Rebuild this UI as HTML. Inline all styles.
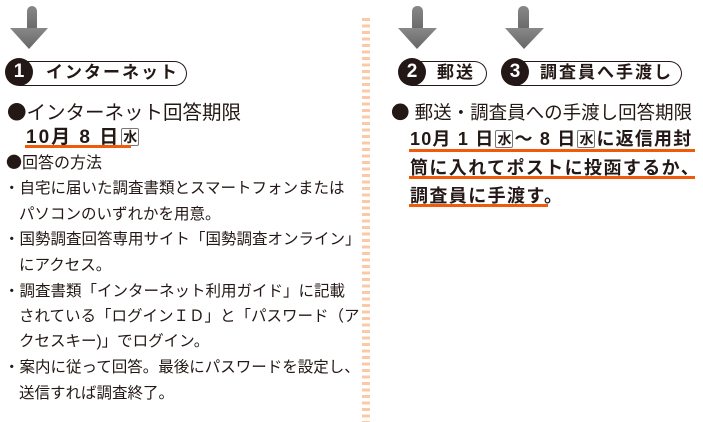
<!DOCTYPE html>
<html><head><meta charset="utf-8"><style>
body{margin:0;width:703px;height:422px;background:#fff;position:relative;overflow:hidden;font-family:"Liberation Sans","Noto Sans CJK JP",sans-serif;color:#231815}
.a{position:absolute;white-space:nowrap}
.b{font-weight:bold}
.c{font-family:"Noto Sans CJK JP",sans-serif}
.w{display:inline-block;border:1px solid #777;border-radius:2px;font-size:14px;line-height:16px;width:16px;text-align:center;vertical-align:1px;font-weight:bold;margin:0 1px;letter-spacing:0}
.ul{position:absolute;height:3px;background:#f05a0a}
.pill{position:absolute;height:23px;border:1.5px solid #231815;border-left:none;border-radius:0 13px 13px 0;background:#fff}
.num{position:absolute;width:28px;height:28px;border-radius:50%;background:#231815;color:#fff;font-weight:bold;font-size:19px;line-height:28px;text-align:center}
.pt{font-size:17px;font-weight:bold;letter-spacing:2px}
.li{font-size:15.5px;position:absolute;white-space:nowrap;left:4px}
</style></head><body>
<svg class="a" style="left:0;top:0" width="703" height="422">
<defs><linearGradient id="g" x1="0" y1="0" x2="0" y2="1"><stop offset="0" stop-color="#888"/><stop offset="1" stop-color="#666"/></linearGradient></defs>
<g fill="url(#g)">
<rect x="27" y="6" width="10" height="26" rx="5"/><polygon points="10,28 48,28 29,49"/>
<rect x="412" y="6" width="11" height="26" rx="5"/><polygon points="398,28 437,28 417,49"/>
<rect x="518" y="6" width="11" height="26" rx="5"/><polygon points="505,28 544,28 524,49"/>
</g>
<line x1="366" y1="18" x2="366" y2="422" stroke="#fcc9a6" stroke-width="8" stroke-dasharray="3 3.5"/>
</svg>

<div class="pill" style="left:19px;top:61px;width:167px"></div>
<div class="num" style="left:5px;top:58px">1</div>
<div class="a pt" style="left:46px;top:61px;line-height:23px">インターネット</div>

<div class="pill" style="left:411px;top:61px;width:75px"></div>
<div class="num" style="left:398px;top:58px">2</div>
<div class="a pt" style="left:437px;top:61px;line-height:23px">郵送</div>

<div class="pill" style="left:514px;top:61px;width:167px"></div>
<div class="num" style="left:501px;top:58px">3</div>
<div class="a pt" style="left:540px;top:61px;line-height:23px">調査員へ手渡し</div>

<div class="a" style="left:7px;top:96px;font-size:19.5px"><span class="c">●</span>インターネット回答期限</div>
<div class="a b" style="left:26px;top:122px;font-size:19px;letter-spacing:2px">10月 8 日<span class="w">水</span></div>
<div class="ul" style="left:25px;top:145px;width:106px"></div>
<div class="a" style="left:6px;top:149px;font-size:16px"><span class="c">●</span>回答の方法</div>

<div class="li" style="top:176px">・自宅に届いた調査書類とスマートフォンまたは</div>
<div class="li" style="top:202px;left:19px">パソコンのいずれかを用意。</div>
<div class="li" style="top:227px">・国勢調査回答専用サイト「国勢調査オンライン」</div>
<div class="li" style="top:253px;left:19px">にアクセス。</div>
<div class="li" style="top:279px">・調査書類「インターネット利用ガイド」に記載</div>
<div class="li" style="top:304px;left:19px">されている「ログインＩＤ」と「パスワード（ア</div>
<div class="li" style="top:329px;left:19px">クセスキー)」でログイン。</div>
<div class="li" style="top:355px">・案内に従って回答。最後にパスワードを設定し、</div>
<div class="li" style="top:381px;left:19px">送信すれば調査終了。</div>

<div class="a" style="left:391px;top:99px;font-size:18.5px"><span class="c">●</span> 郵送・調査員への手渡し回答期限</div>
<div class="a b" style="left:410px;top:125px;font-size:18px;letter-spacing:1.2px">10月 1 日<span class="w">水</span>～ 8 日<span class="w">水</span>に返信用封</div>
<div class="ul" style="left:409px;top:149px;width:286px"></div>
<div class="a b" style="left:410px;top:154px;font-size:18px;letter-spacing:1.4px">筒に入れてポストに投函するか、</div>
<div class="ul" style="left:409px;top:176px;width:286px"></div>
<div class="a b" style="left:410px;top:182px;font-size:18px;letter-spacing:1.4px">調査員に手渡す。</div>
<div class="ul" style="left:409px;top:204px;width:139px"></div>
</body></html>
